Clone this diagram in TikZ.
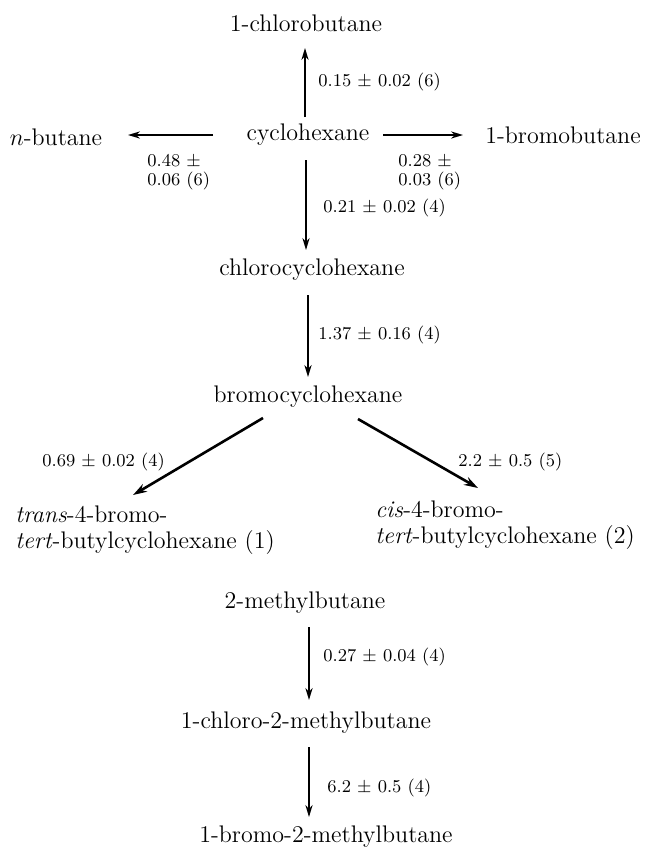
\documentclass[tikz,border=0pt]{standalone}
\usepackage{fontspec}
\usetikzlibrary{arrows.meta}
\begin{document}
\begin{tikzpicture}[x=0.5pt,y=-0.5pt,
  chem/.style={font=\fontsize{12}{13}\selectfont, inner sep=0pt, anchor=center},
  chemlist/.style={font=\fontsize{12}{13}\selectfont, inner sep=0pt, anchor=west, align=left},
  rate/.style={font=\fontsize{9}{9.5}\selectfont, inner sep=0pt, anchor=west, align=left},
  arr/.style={-{Stealth[length=6pt,width=3.6pt]}, line width=0.75pt},
  darr/.style={-{Stealth[length=7pt,width=4.4pt]}, line width=1.3pt}]
\useasboundingbox (0,0) rectangle (645,847);
% compounds
\node[chem] (clb) at (306,23) {1-chlorobutane};
\node[chem] (cyc) at (308,135) {cyclohexane};
\node[chem] (nbut) at (56,137) {$n$-butane};
\node[chem] (bbut) at (563,135) {1-bromobutane};
\node[chem] (ccy) at (312,270) {chlorocyclohexane};
\node[chem] (bcy) at (308,397) {bromocyclohexane};
\node[chemlist] (trans) at (15,530) {\textit{trans}-4-bromo-\\\textit{tert}-butylcyclohexane (1)};
\node[chemlist] (cis) at (375,525) {\textit{cis}-4-bromo-\\\textit{tert}-butylcyclohexane (2)};
\node[chem] (mb) at (305,603) {2-methylbutane};
\node[chem] (cmb) at (306,723) {1-chloro-2-methylbutane};
\node[chem] (bmb) at (326,837) {\addfontfeature{LetterSpace=5}1-bromo-2-methylbutane};
% rate labels
\node[rate] (r1) at (318,82) {0.15 $\pm$ 0.02 (6)};
\node[rate] (r2) at (147,172) {0.48 $\pm$\\0.06 (6)};
\node[rate] (r3) at (398,172) {0.28 $\pm$\\0.03 (6)};
\node[rate] (r4) at (323,208) {0.21 $\pm$ 0.02 (4)};
\node[rate] (r5) at (318,335) {1.37 $\pm$ 0.16 (4)};
\node[rate] (r6) at (42,462) {0.69 $\pm$ 0.02 (4)};
\node[rate] (r7) at (458,462) {2.2 $\pm$ 0.5 (5)};
\node[rate] (r8) at (323,657) {0.27 $\pm$ 0.04 (4)};
\node[rate] (r9) at (327,788) {6.2 $\pm$ 0.5 (4)};
% connectors
\draw[arr, shorten <=9pt, shorten >=12.5pt] ([xshift=-1.5pt]cyc.center) -- ([xshift=-1.5pt]cyc.center |- clb.center);
\draw[arr, shorten <=47.5pt, shorten >=36pt] (cyc.center) -- (cyc.center -| nbut.center);
\draw[arr, shorten <=37.5pt, shorten >=50pt] (cyc.center) -- (cyc.center -| bbut.center);
\draw[arr, shorten <=12.5pt, shorten >=10pt] ([xshift=-1pt]cyc.center) -- ([xshift=-1pt]cyc.center |- ccy.center);
\draw[arr, line width=1pt, shorten <=12.5pt, shorten >=10pt] (bcy.center |- ccy.center) -- (bcy.center);
\draw[darr] ([shift={(-45,21)}]bcy.center) -- ([shift={(118,-35)}]trans.west);
\draw[darr] ([shift={(50,22)}]bcy.center) -- ([shift={(103,-37)}]cis.west);
\draw[arr, line width=1pt, shorten <=12pt, shorten >=11.5pt] ([xshift=2pt]mb.center) -- ([xshift=2pt]mb.center |- cmb.center);
\draw[arr, shorten <=12pt, shorten >=10pt] ([xshift=1.5pt]cmb.center) -- ([xshift=1.5pt]cmb.center |- bmb.center);
\end{tikzpicture}
\end{document}
